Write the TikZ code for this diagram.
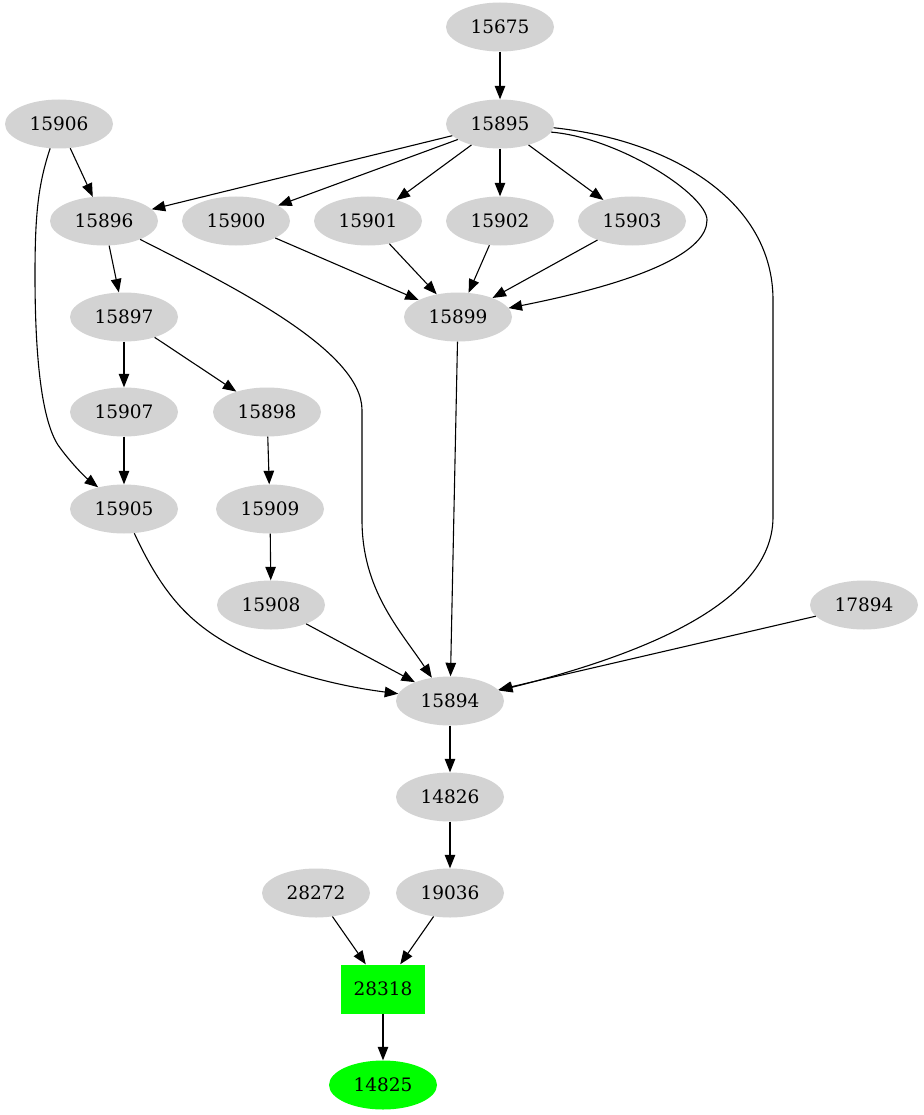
\documentclass[tikz,border=0pt]{standalone}
\usepackage{fontspec}
\setmainfont{DejaVu Serif}
\usetikzlibrary{shapes.geometric,arrows.meta}
\definecolor{gvgray}{HTML}{D3D3D3}
\definecolor{gvgreen}{HTML}{00FF00}
\begin{document}
\begin{tikzpicture}[x=1pt,y=-1pt,
  gnode/.style={ellipse,fill=gvgray,minimum width=108pt,minimum height=49pt,inner sep=0pt,font=\fontsize{18.5}{22}\selectfont},
  greennode/.style={gnode,fill=gvgreen},
  boxnode/.style={rectangle,fill=gvgreen,minimum width=84pt,minimum height=49pt,inner sep=0pt,font=\fontsize{18.5}{22}\selectfont},
  conn/.style={draw,line width=1.1pt,-{Triangle[length=13.5pt,width=10.5pt]}}]
\useasboundingbox (0,0) rectangle (923,1115);
\node[gnode] (n15675) at (500,27) {15675};
\node[gnode] (n15906) at (59,124) {15906};
\node[gnode] (n15895) at (500,124) {15895};
\node[gnode] (n15896) at (104,221) {15896};
\node[gnode] (n15900) at (236,221) {15900};
\node[gnode] (n15901) at (368,221) {15901};
\node[gnode] (n15902) at (500,221) {15902};
\node[gnode] (n15903) at (632,221) {15903};
\node[gnode] (n15897) at (124,317) {15897};
\node[gnode] (n15899) at (458,317) {15899};
\node[gnode] (n15907) at (124,412) {15907};
\node[gnode] (n15898) at (267,412) {15898};
\node[gnode] (n15905) at (124,509) {15905};
\node[gnode] (n15909) at (270,509) {15909};
\node[gnode] (n15908) at (271,605) {15908};
\node[gnode] (n17894) at (864,605) {17894};
\node[gnode] (n15894) at (450,701) {15894};
\node[gnode] (n14826) at (450,797) {14826};
\node[gnode] (n28272) at (316,893) {28272};
\node[gnode] (n19036) at (450,893) {19036};
\node[boxnode] (n28318) at (383,989) {28318};
\node[greennode] (n14825) at (383,1085) {14825};

\draw[conn] (n15675) -- (n15895);
\draw[conn] (n15906) -- (n15896);
\draw[conn] (n15906.250) .. controls (38,185) and (35,215) .. (35,275)
  .. controls (35,360) and (42,420) .. (58,445)
  .. controls (70,462) and (85,477) .. (n15905.140);
\draw[conn] (n15895) -- (n15896);
\draw[conn] (n15895) -- (n15900);
\draw[conn] (n15895) -- (n15901);
\draw[conn] (n15895) -- (n15902);
\draw[conn] (n15895) -- (n15903);
\draw[conn] (n15895.-9) .. controls (620,138) and (707,195) .. (707,220)
  .. controls (707,250) and (650,280) .. (n15899.10);
\draw[conn] (n15895.-4) .. controls (670,140) and (773,200) .. (773,300) -- (773,517)
  .. controls (773,610) and (620,660) .. (n15894.12);
\draw[conn] (n15896) -- (n15897);
\draw[conn] (n15896.-27) .. controls (230,285) and (362,350) .. (362,410) -- (362,520)
  .. controls (362,590) and (400,630) .. (n15894.128);
\draw[conn] (n15900) -- (n15899);
\draw[conn] (n15901) -- (n15899);
\draw[conn] (n15902) -- (n15899);
\draw[conn] (n15903) -- (n15899);
\draw[conn] (n15897) -- (n15907);
\draw[conn] (n15897) -- (n15898);
\draw[conn] (n15899) -- (n15894);
\draw[conn] (n15907) -- (n15905);
\draw[conn] (n15898) -- (n15909);
\draw[conn] (n15905.-67) .. controls (155,578) and (175,605) .. (200,625)
  .. controls (250,665) and (330,685) .. (n15894.172);
\draw[conn] (n15909) -- (n15908);
\draw[conn] (n15908) -- (n15894);
\draw[conn] (n17894) -- (n15894);
\draw[conn] (n15894) -- (n14826);
\draw[conn] (n14826) -- (n19036);
\draw[conn] (n28272) -- (n28318);
\draw[conn] (n19036) -- (n28318);
\draw[conn] (n28318) -- (n14825);
\end{tikzpicture}
\end{document}
